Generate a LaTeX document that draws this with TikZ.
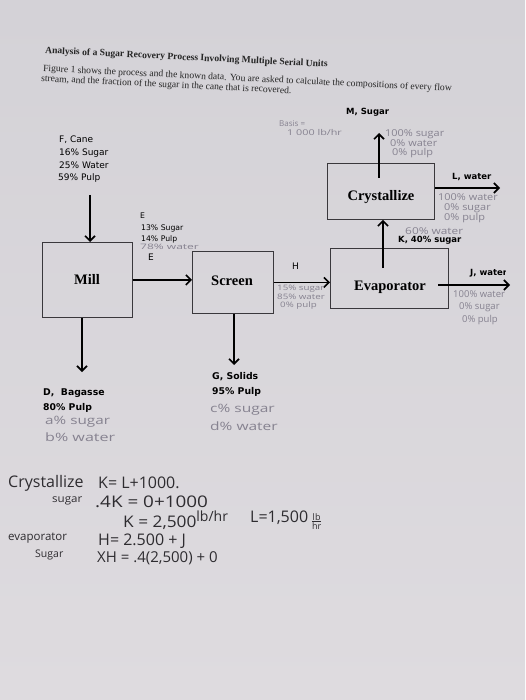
\documentclass[tikz,border=0pt]{standalone}
\usepackage{fontspec}
\usepackage{graphicx}
\setmainfont{Liberation Serif}
\newfontfamily\lab{DejaVu Sans}
\newfontfamily\hand{Open Sans}
\newcommand{\stretchx}[2]{\scalebox{#1}[1]{#2}}
\usetikzlibrary{arrows.meta}
\definecolor{paperA}{HTML}{D4D2D7}
\definecolor{paperB}{HTML}{DEDBDF}
\definecolor{paperC}{HTML}{E9E7EB}
\definecolor{pencil}{HTML}{868290}
\definecolor{inkc}{HTML}{2E2C30}
\definecolor{boxc}{HTML}{3A383C}
\begin{document}
\begin{tikzpicture}[x=1pt,y=-1pt,
  unit/.style={draw=boxc, line width=0.9pt, inner sep=0, anchor=north west},
  unitlbl/.style={inner sep=0, font=\fontsize{14.5}{16}\selectfont\bfseries},
  flow/.style={draw=black, line width=1.8pt, -{Straight Barb[length=5pt,width=10pt,line width=1.6pt]}},
  lbl/.style={anchor=west, inner sep=0, text=black, font=\lab\fontsize{9}{10}\selectfont},
  lbls/.style={anchor=west, inner sep=0, text=black, font=\lab\fontsize{7.7}{9}\selectfont},
  lblb/.style={anchor=west, inner sep=0, text=black, font=\lab\bfseries\fontsize{8.5}{10}\selectfont},
  lblbig/.style={anchor=west, inner sep=0, text=black, font=\lab\bfseries\fontsize{9.3}{10}\selectfont},
  note/.style={anchor=west, inner sep=0, text=pencil, font=\hand\fontsize{9.5}{10}\selectfont},
  notes/.style={anchor=west, inner sep=0, text=pencil, font=\hand\fontsize{7.5}{8}\selectfont},
  noteb/.style={anchor=west, inner sep=0, text=pencil, font=\hand\fontsize{11.5}{12}\selectfont},
  handink/.style={anchor=west, inner sep=0, text=inkc, font=\hand\fontsize{16}{18}\selectfont},
  handsm/.style={anchor=west, inner sep=0, text=inkc, font=\hand\fontsize{10.5}{12}\selectfont},
  head/.style={anchor=west, inner sep=0, rotate=-2.8, text=black!85}
]
\useasboundingbox (0,0) rectangle (525,700);
\clip (0,0) rectangle (525,700);
\shade[top color=paperA, middle color=paperC, bottom color=paperB] (0,0) rectangle (525,700);

% header
\node[head, font=\fontsize{9.6}{10}\selectfont\bfseries] (title) at (45,51) {Analysis of a Sugar Recovery Process Involving Multiple Serial Units};
\node[head, font=\fontsize{9.6}{10}\selectfont] (para1) at (43,69) {Figure 1 shows the process and the known data. You are asked to calculate the compositions of every flow};
\node[head, font=\fontsize{9.6}{10}\selectfont] (para2) at (41,79) {stream, and the fraction of the sugar in the cane that is recovered.};

% units
\node[unit, minimum width=90, minimum height=75] (mill) at (42,242) {};
\node[unit, minimum width=81, minimum height=62] (screen) at (192,251) {};
\node[unit, minimum width=118, minimum height=60] (evap) at (330,248) {};
\node[unit, minimum width=107, minimum height=56] (cryst) at (327,163) {};
\node[unitlbl] (milll) at (87,279) {Mill};
\node[unitlbl] (screenl) at (232,281) {Screen};
\node[unitlbl] (evapl) at (390,287) {Evaporator};
\node[unitlbl] (crystl) at (381,197) {Crystallize};

% streams
\coordinate (fstart) at (90,195);
\draw[flow] (fstart) -- (fstart |- mill.north);
\draw[flow] (mill.east) -- (mill.east -| screen.west);
\draw[flow] (screen.east) -- (screen.east -| evap.west);
\coordinate (kstart) at (383,268);
\draw[flow] (kstart) -- (kstart |- cryst.south);
\coordinate (mstart) at (379,178);
\coordinate (mend) at (379,133);
\draw[flow] (mstart) -- (mend);
\coordinate (lend) at (500,188);
\draw[flow] (cryst.east |- lend) -- (lend);
\coordinate (jstart) at (438,285);
\coordinate (jend) at (510,285);
\draw[flow] (jstart) -- (jend);
\coordinate (dend) at (82,372);
\draw[flow] (dend |- mill.south) -- (dend);
\coordinate (gend) at (234,365);
\draw[flow] (gend |- screen.south) -- (gend);

% printed stream labels
\node[lblb] (mlab) at (346,112) {M, Sugar};
\node[lbl] (f1) at (59,140) {F, Cane};
\node[lbl] (f2) at (59,153) {16\% Sugar};
\node[lbl] (f3) at (59,165) {25\% Water};
\node[lbl] (f4) at (58,178) {59\% Pulp};
\node[lbls] (e1) at (140,216) {E};
\node[lbls] (e2) at (141,228) {13\% Sugar};
\node[lbls] (e3) at (141,239) {14\% Pulp};
\node[lbl] (e4) at (148,257) {E};
\node[lbl] (hlab) at (292,266) {H};
\node[lblb] (klab) at (398,240) {K, 40\% sugar};
\node[lblb] (llab) at (452,177) {L, water};
\begin{scope}
  \clip (460,262) rectangle (505,284);
  \node[lblb] (jlab) at (470,273) {J, water};
\end{scope}
\node[lblbig] (d1) at (43,393) {D,\ \ Bagasse};
\node[lblbig] (d2) at (43,408) {80\% Pulp};
\node[lblbig] (g1) at (212,377) {G, Solids};
\node[lblbig] (g2) at (212,392) {95\% Pulp};

% pencil notes
\node[notes, font=\hand\fontsize{8}{9}\selectfont] (b1) at (279,124) {Basis =};
\node[notes, font=\hand\fontsize{8}{9}\selectfont] (b2) at (287,133) {\stretchx{1.35}{1 000 lb/hr}};
\node[note] (m1) at (385,134) {\stretchx{1.15}{100\% sugar}};
\node[note] (m2) at (390,143) {\stretchx{1.15}{0\% water}};
\node[note] (m3) at (392,153) {\stretchx{1.15}{0\% pulp}};
\node[note] (l1) at (438,197) {\stretchx{1.15}{100\% water}};
\node[note] (l2) at (444,208) {\stretchx{1.15}{0\% sugar}};
\node[note] (l3) at (444,218) {\stretchx{1.15}{0\% pulp}};
\node[note] (k1) at (405,231) {\stretchx{1.25}{60\% water}};
\node[notes] (e5) at (140,247) {\stretchx{1.6}{78\% water}};
\node[notes] (h1) at (277,289) {\stretchx{1.3}{15\% sugar}};
\node[notes] (h2) at (277,297) {\stretchx{1.3}{85\% water}};
\node[notes] (h3) at (280,306) {\stretchx{1.3}{0\% pulp}};
\node[note] (j1) at (453,294) {100\% water};
\node[note] (j2) at (459,307) {0\% sugar};
\node[note] (j3) at (462,320) {0\% pulp};
\node[noteb] (d3) at (45,422) {\stretchx{1.33}{a\% sugar}};
\node[noteb] (d4) at (45,437) {\stretchx{1.4}{b\% water}};
\node[noteb] (g3) at (210,410) {\stretchx{1.35}{c\% sugar}};
\node[noteb] (g4) at (210,426) {\stretchx{1.35}{d\% water}};

% worked equations
\node[handink] (w1) at (8,483) {Crystallize};
\node[handink] (w2) at (98,483) {K= L+1000.};
\node[handsm] (w3) at (52,501) {\stretchx{1.1}{sugar}};
\node[handink] (w4) at (95,502) {\stretchx{1.18}{.4K = 0+1000}};
\node[handink] (w5) at (123,520) {\stretchx{1.08}{K = 2,500}\raisebox{0.7ex}{\fontsize{14}{14}\selectfont lb/hr}};
\node[handink] (w6) at (250,520) {L=1,500\,\raisebox{-0.2ex}{\fontsize{10}{10}\selectfont$\frac{\mbox{\hand\fontsize{9}{9}\selectfont lb}}{\mbox{\hand\fontsize{9}{9}\selectfont hr}}$}};
\node[handsm, font=\hand\fontsize{11.5}{12}\selectfont] (w7) at (8,538) {evaporator};
\node[handsm] (w8) at (35,555) {Sugar};
\node[handink] (w9) at (98,541) {H= 2.500 + J};
\node[handink, font=\hand\fontsize{15}{18}\selectfont] (w10) at (97,558) {XH = .4(2,500) + 0};
\end{tikzpicture}
\end{document}
